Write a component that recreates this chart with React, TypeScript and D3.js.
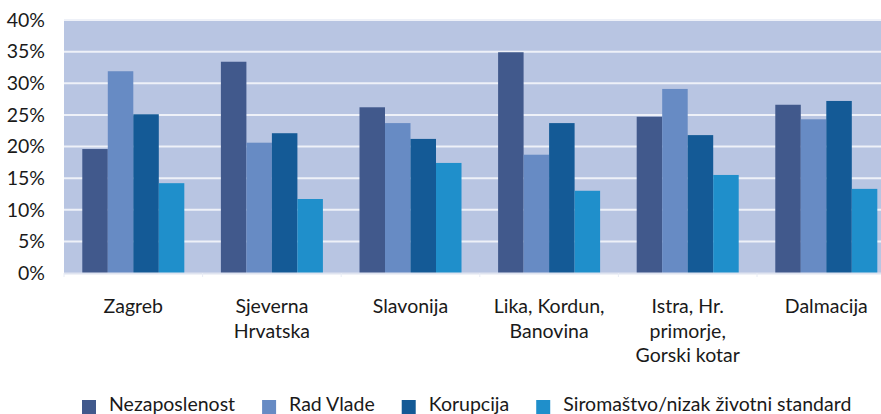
import React, { useRef, useEffect } from "react";
import * as d3 from "d3";

const regions = [
  ["Zagreb"],
  ["Sjeverna", "Hrvatska"],
  ["Slavonija"],
  ["Lika, Kordun,", "Banovina"],
  ["Istra, Hr.", "primorje,", "Gorski kotar"],
  ["Dalmacija"],
];
const seriesNames = ["Nezaposlenost", "Rad Vlade", "Korupcija", "Siromaštvo/nizak životni standard"];
const seriesColors = ["#41598c", "#678bc4", "#145a96", "#1f8fcb"];

const nezaposlenost = [19.6, 33.4, 26.2, 34.9, 24.7, 26.6];
const radVlade = [31.9, 20.6, 23.7, 18.7, 29.1, 24.3];
const korupcija = [25.1, 22.1, 21.2, 23.7, 21.8, 27.2];
const siromastvo = [14.2, 11.7, 17.4, 13.0, 15.5, 13.3];

const yTicks = [0, 5, 10, 15, 20, 25, 30, 35, 40];

const FONT = "Lato, 'Open Sans', sans-serif";
const FS = 19.5;

const Chart = ({ width, height }: { width: number; height: number }) => {
  const svgRef = useRef<SVGSVGElement>(null);

  useEffect(() => {
    const svg = d3.select(svgRef.current);
    svg.selectAll("*").remove();

    const values = [nezaposlenost, radVlade, korupcija, siromastvo];
    const keys = regions.map((r) => r.join(" "));

    const left = 64, right = 895.6, top = 20, bottom = 273;

    const x = d3.scaleBand<string>().domain(keys).range([left, right])
      .paddingInner(0.264).paddingOuter(0.132);
    const xs = d3.scaleBand<number>().domain(d3.range(seriesNames.length)).range([0, x.bandwidth()]);
    const y = d3.scaleLinear().domain([0, 40]).range([bottom, top]);

    // plot background
    svg.append("rect")
      .attr("x", left).attr("y", top)
      .attr("width", right - left).attr("height", bottom - top)
      .attr("fill", "#b8c5e2");

    // grid
    svg.append("g").selectAll("line")
      .data(yTicks.filter((t) => t > 0))
      .enter().append("line")
      .attr("x1", left).attr("x2", right)
      .attr("y1", (d) => y(d)).attr("y2", (d) => y(d))
      .attr("stroke", "#eef1f8").attr("stroke-width", 2);

    // bars
    values.forEach((vals, si) => {
      svg.append("g").selectAll("rect")
        .data(vals)
        .enter().append("rect")
        .attr("x", (_, i) => (x(keys[i]) as number) + (xs(si) as number))
        .attr("y", (d) => y(d))
        .attr("width", xs.bandwidth())
        .attr("height", (d) => y(0) - y(d))
        .attr("fill", seriesColors[si]);
    });

    // x axis line and ticks
    svg.append("line")
      .attr("x1", left).attr("x2", right)
      .attr("y1", bottom + 0.5).attr("y2", bottom + 0.5)
      .attr("stroke", "#dfe4f0").attr("stroke-width", 2);
    const step = x.step();
    svg.append("g").selectAll("line")
      .data(d3.range(keys.length + 1))
      .enter().append("line")
      .attr("x1", (i) => left + i * step).attr("x2", (i) => left + i * step)
      .attr("y1", bottom).attr("y2", bottom + 4)
      .attr("stroke", "#e8ecf5").attr("stroke-width", 1);

    // y labels
    svg.append("g").selectAll("text")
      .data(yTicks)
      .enter().append("text")
      .attr("x", 45).attr("y", (d) => y(d))
      .attr("dy", "0.35em")
      .attr("text-anchor", "end")
      .attr("font-family", FONT).attr("font-size", FS)
      .attr("fill", "#1a1a1a")
      .text((d) => `${d}%`);

    // category labels
    const cat = svg.append("g").selectAll("text")
      .data(regions)
      .enter().append("text")
      .attr("text-anchor", "middle")
      .attr("font-family", FONT).attr("font-size", FS)
      .attr("fill", "#1a1a1a");
    cat.each(function (lines, i) {
      const cx = (x(keys[i]) as number) + x.bandwidth() / 2;
      d3.select(this).selectAll("tspan")
        .data(lines)
        .enter().append("tspan")
        .attr("x", cx)
        .attr("y", (_, j) => 313 + j * 24.5)
        .text((d) => d);
    });

    // legend
    const lg = svg.append("g");
    const items = lg.selectAll("g")
      .data(seriesNames)
      .enter().append("g");
    items.append("rect")
      .attr("width", 14).attr("height", 14)
      .attr("y", 400)
      .attr("fill", (_, i) => seriesColors[i]);
    items.append("text")
      .attr("x", 27).attr("y", 411)
      .attr("font-family", FONT).attr("font-size", FS)
      .attr("fill", "#1a1a1a")
      .text((d) => d);
    let cursor = 82;
    items.each(function () {
      const g = d3.select(this);
      g.attr("transform", `translate(${cursor},0)`);
      const w = (g.select("text").node() as SVGTextElement).getComputedTextLength();
      cursor += 27 + w + 27;
    });
  }, [width, height]);

  return (
    <svg ref={svgRef} width={width} height={height}
      style={{ position: "absolute", left: 0, top: 0, background: "#fff" }} />
  );
};

export default function App() {
  return <Chart width={881} height={414} />;
}
